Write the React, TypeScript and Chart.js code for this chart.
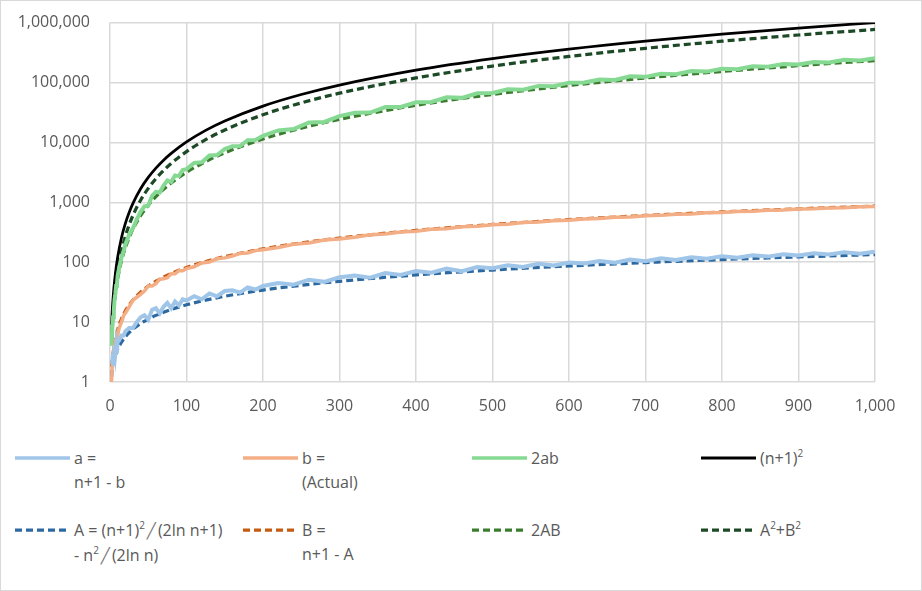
import React, { useEffect, useRef } from "react";
import { Chart, registerables } from "chart.js";

Chart.register(...registerables);

// ---- actual (noisy) series ----
const N_ACTUAL = [2, 3, 4, 5, 6, 7, 8, 9, 10, 12, 15, 18, 20, 25, 30, 35, 40, 45, 50, 55, 60, 65, 70, 75, 80, 85, 90, 95, 100, 110, 120, 130, 140, 150, 160, 170, 180, 190, 200, 220, 240, 260, 280, 300, 320, 340, 360, 380, 400, 420, 440, 460, 480, 500, 520, 540, 560, 580, 600, 620, 640, 660, 680, 700, 720, 740, 760, 780, 800, 820, 840, 860, 880, 900, 920, 940, 960, 980, 1000];
const A_ACTUAL = [2, 2, 3, 2, 4, 3, 4, 3, 5, 5, 6, 6, 7, 8, 8, 10, 12, 13, 11, 16, 17, 14, 18, 21, 17, 22, 19, 24, 23, 27, 24, 30, 27, 33, 34, 31, 38, 35, 40, 45, 42, 51, 47, 56, 60, 55, 66, 61, 71, 67, 78, 71, 83, 79, 89, 83, 94, 88, 99, 95, 105, 98, 111, 104, 116, 109, 121, 114, 126, 119, 131, 124, 136, 130, 141, 134, 147, 139, 150];
const B_ACTUAL = [1, 2, 2, 4, 3, 5, 5, 7, 6, 8, 10, 13, 14, 18, 23, 26, 29, 33, 40, 40, 44, 52, 53, 55, 64, 64, 72, 72, 78, 84, 97, 101, 114, 118, 127, 140, 143, 156, 161, 176, 199, 210, 234, 245, 261, 286, 295, 320, 330, 354, 363, 390, 398, 422, 432, 458, 467, 493, 502, 526, 536, 563, 570, 597, 605, 632, 640, 667, 675, 702, 710, 737, 745, 771, 780, 807, 814, 842, 851];
const AB2_ACTUAL = [4, 8, 12, 16, 24, 30, 40, 42, 60, 80, 120, 156, 196, 288, 368, 520, 696, 858, 880, 1280, 1496, 1456, 1908, 2310, 2176, 2816, 2736, 3456, 3588, 4536, 4656, 6060, 6156, 7788, 8636, 8680, 10868, 10920, 12880, 15840, 16716, 21420, 21996, 27440, 31320, 31460, 38940, 39040, 46860, 47436, 56628, 55380, 66068, 66676, 76896, 76028, 87796, 86768, 99396, 99940, 112560, 110348, 126540, 124176, 140360, 137776, 154880, 152076, 170100, 167076, 186020, 182776, 202640, 200460, 219960, 216276, 239316, 234076, 255300];

// ---- estimated (smooth) series ----
const N_EST = [2, 3, 4, 5, 7, 10, 15, 20, 25, 30, 40, 50, 60, 70, 80, 100, 125, 150, 200, 250, 300, 400, 500, 600, 700, 800, 900, 1000];
const SQUARE = [9, 16, 25, 36, 64, 121, 256, 441, 676, 961, 1681, 2601, 3721, 5041, 6561, 10201, 15876, 22801, 40401, 63001, 90601, 160801, 251001, 361201, 491401, 641601, 811801, 1002001];
const A_EST = [1.21, 1.675, 1.996, 2.279, 2.799, 3.515, 4.623, 5.665, 6.658, 7.618, 9.464, 11.234, 12.949, 14.62, 16.255, 19.44, 23.283, 27.02, 34.26, 41.25, 48.06, 61.26, 74.05, 86.53, 98.76, 110.78, 122.64, 134.35];
const B_EST = [1.79, 2.325, 3.004, 3.72, 5.201, 7.485, 11.377, 15.335, 19.342, 23.38, 31.54, 39.77, 48.051, 56.38, 64.745, 81.56, 102.717, 123.98, 166.74, 209.75, 252.94, 339.74, 426.95, 514.47, 602.24, 690.22, 778.36, 866.65];
const AB2_EST = [4.33, 7.79, 11.99, 16.96, 29.12, 52.62, 105.19, 173.7, 257.56, 356.2, 597.0, 893.6, 1244.4, 1648.6, 2104.9, 3171, 4783.1, 6700, 11425, 17304, 24313, 41625, 63231, 89034, 118954, 152925, 190916, 232868];
const A2B2_EST = [4.67, 8.21, 13.01, 19.04, 34.88, 68.38, 150.81, 267.3, 418.4, 604.8, 1084, 1707, 2476.6, 3392, 4456.1, 7030, 11092.9, 16101, 28976, 45697, 66288, 119176, 187770, 272167, 372447, 488676, 620885, 769133];

const X_TICKS = [0, 100, 200, 300, 400, 500, 600, 700, 800, 900, 1000];
const Y_TICKS = [1, 10, 100, 1000, 10000, 100000, 1000000];

const TEXT = "#595959";
const GRID = "#d9d9d9";
const FONT = "'Open Sans', 'Noto Sans', sans-serif";

const C_A = "#9FC5E8";
const C_B = "#F3AE85";
const C_AB = "#86D993";
const C_SQ = "#000000";
const C_AE = "#2D69A1";
const C_BE = "#C55A11";
const C_ABE = "#3B7D2E";
const C_A2B2E = "#1D4A26";

const DASH = [7, 4];

const xy = (n: number[], v: number[]) => n.map((x, i) => ({ x, y: v[i] }));

type Item = { color: string; dashed: boolean; width: number; lines: React.ReactNode[] };

const Sup = ({ t }: { t: string }) => (
  <span style={{ fontSize: 10, verticalAlign: "baseline", position: "relative", top: -7, lineHeight: 0 }}>{t}</span>
);
const Slash = () => (
  <span style={{ fontFamily: "'DejaVu Sans'", fontSize: 15, margin: "0 2px", color: "#7a7a7a" }}>╱</span>
);

const LEGEND: Item[][] = [
  [
    { color: C_A, dashed: false, width: 3.5, lines: ["a =", "n+1 - b"] },
    { color: C_B, dashed: false, width: 3.5, lines: ["b =", "(Actual)"] },
    { color: C_AB, dashed: false, width: 3.5, lines: ["2ab"] },
    { color: C_SQ, dashed: false, width: 3, lines: [<span>(n+1)<Sup t="2" /></span>] },
  ],
  [
    {
      color: C_AE, dashed: true, width: 3.25,
      lines: [
        <span>A = (n+1)<Sup t="2" /><Slash />(2ln n+1)</span>,
        <span>- n<Sup t="2" /><Slash />(2ln n)</span>,
      ],
    },
    { color: C_BE, dashed: true, width: 3.25, lines: ["B =", "n+1 - A"] },
    { color: C_ABE, dashed: true, width: 3.25, lines: ["2AB"] },
    { color: C_A2B2E, dashed: true, width: 3.25, lines: [<span>A<Sup t="2" />+B<Sup t="2" /></span>] },
  ],
];
const COL_X = [15, 243, 472, 701];
const ROW_Y = [458, 530];

export default function App() {
  const ref = useRef<HTMLCanvasElement>(null);

  useEffect(() => {
    document.body.style.margin = "0";
    const solid = (label: string, n: number[], v: number[], color: string, w: number) => ({
      label, data: xy(n, v), borderColor: color, backgroundColor: color, borderWidth: w,
      pointRadius: 0, tension: 0, fill: false,
    });
    const dashed = (label: string, n: number[], v: number[], color: string) => ({
      label, data: xy(n, v), borderColor: color, backgroundColor: color, borderWidth: 3.25,
      borderDash: DASH, pointRadius: 0,
      cubicInterpolationMode: "monotone" as const, fill: false,
    });
    const chart = new Chart(ref.current!, {
      type: "line",
      data: {
        datasets: [
          solid("a = n+1 - b", N_ACTUAL, A_ACTUAL, C_A, 4),
          solid("b = (Actual)", N_ACTUAL, B_ACTUAL, C_B, 3.5),
          solid("2ab", N_ACTUAL, AB2_ACTUAL, C_AB, 4),
          { ...solid("(n+1)²", N_EST, SQUARE, C_SQ, 2.75), cubicInterpolationMode: "monotone" as const },
          dashed("A = (n+1)²/(2ln n+1) - n²/(2ln n)", N_EST, A_EST, C_AE),
          dashed("B = n+1 - A", N_EST, B_EST, C_BE),
          dashed("2AB", N_EST, AB2_EST, C_ABE),
          dashed("A²+B²", N_EST, A2B2_EST, C_A2B2E),
        ] as any,
      },
      options: {
        animation: false,
        responsive: false,
        maintainAspectRatio: false,
        layout: { padding: { left: 0, right: 47, top: 16, bottom: 18 } },
        plugins: { legend: { display: false }, tooltip: { enabled: false } },
        scales: {
          x: {
            type: "linear",
            min: 0,
            max: 1000,
            afterBuildTicks: (s: any) => { s.ticks = X_TICKS.map((v) => ({ value: v })); },
            afterFit: (s: any) => { s.height = 40; },
            grid: { color: GRID, lineWidth: 1.5, drawTicks: false },
            border: { display: false },
            ticks: {
              padding: 15, color: TEXT, font: { family: FONT, size: 16 },
              maxRotation: 0, autoSkip: false,
              callback: (v: any) => Number(v).toLocaleString("en-US"),
            },
          },
          y: {
            type: "logarithmic",
            min: 1,
            max: 1000000,
            afterBuildTicks: (s: any) => { s.ticks = Y_TICKS.map((v) => ({ value: v })); },
            afterFit: (s: any) => { s.width = 110; },
            grid: { color: GRID, lineWidth: 1.5, drawTicks: false },
            border: { display: false },
            ticks: {
              padding: 20, color: TEXT, font: { family: FONT, size: 16 },
              autoSkip: false,
              callback: (v: any) => Number(v).toLocaleString("en-US"),
            },
          },
        },
      } as any,
    });
    return () => chart.destroy();
  }, []);

  return (
    <div style={{ position: "fixed", left: 0, top: 0, width: 922, height: 591, background: "#fff", fontFamily: FONT, color: TEXT, overflow: "hidden" }}>
      <canvas ref={ref} width={922} height={447} style={{ position: "absolute", left: 0, top: -7, width: 922, height: 447 }} />
      {LEGEND.map((row, r) =>
        row.map((it, c) => (
          <div key={`${r}-${c}`} style={{ position: "absolute", left: COL_X[c], top: ROW_Y[r] - 12 }}>
            <svg width={56} height={24} style={{ position: "absolute", left: 0, top: 0 }}>
              <line
                x1={0} y1={12} x2={55} y2={12}
                stroke={it.color} strokeWidth={it.width}
                strokeDasharray={it.dashed ? "7 4" : undefined}
              />
            </svg>
            <div style={{ position: "absolute", left: 59, top: 0, fontSize: 16, lineHeight: "24px", whiteSpace: "nowrap" }}>
              {it.lines.map((l, i) => (<div key={i}>{l}</div>))}
            </div>
          </div>
        ))
      )}
      <div style={{ position: "absolute", left: 0, top: 0, width: 922, height: 591, boxSizing: "border-box", border: "1.5px solid #d9d9d9", pointerEvents: "none" }} />
    </div>
  );
}
